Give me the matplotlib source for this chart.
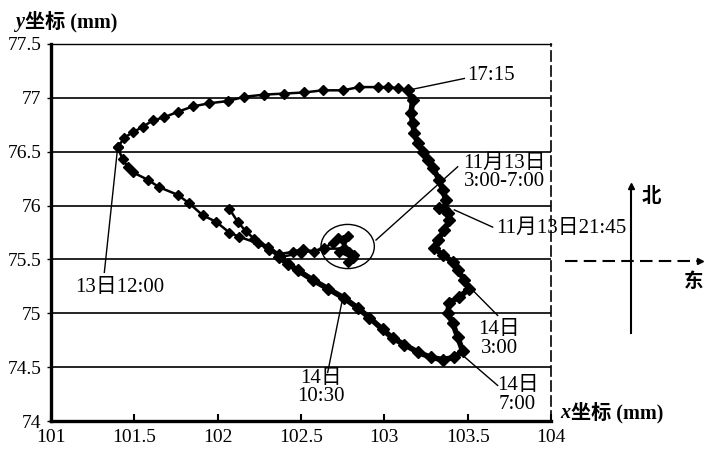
import matplotlib
matplotlib.use("Agg")
import matplotlib.pyplot as plt
from matplotlib.patches import Ellipse
from matplotlib.lines import Line2D

plt.rcParams['font.family'] = ['Liberation Serif', 'Noto Sans CJK SC']
plt.rcParams['axes.unicode_minus'] = False

# === Data ===
# part 1: start, into the 3:00-7:00 cluster, back out and up to the 12:00 tip
track_a_x = [102.07, 102.12, 102.17, 102.22, 102.30, 102.37, 102.45, 102.51, 102.58, 102.64,
             102.69, 102.72, 102.75, 102.78, 102.76, 102.79, 102.73, 102.81, 102.78, 102.82, 102.76,
             102.64, 102.50, 102.37, 102.31, 102.24, 102.13, 102.07, 101.99, 101.91, 101.83,
             101.76, 101.65, 101.58, 101.49, 101.46, 101.43, 101.40]
track_a_y = [75.97, 75.85, 75.76, 75.69, 75.62, 75.55, 75.57, 75.60, 75.57, 75.61,
             75.65, 75.70, 75.68, 75.72, 75.61, 75.57, 75.57, 75.51, 75.48, 75.54, 75.60,
             75.60, 75.56, 75.52, 75.59, 75.65, 75.71, 75.75, 75.85, 75.91, 76.02,
             76.10, 76.17, 76.24, 76.31, 76.36, 76.43, 76.54]

# part 2: top arc, 12:00 -> 17:15
track_b_x = [101.40, 101.44, 101.49, 101.55, 101.61, 101.68, 101.76, 101.85, 101.95, 102.06,
             102.16, 102.28, 102.40, 102.52, 102.63, 102.75, 102.85, 102.96, 103.02, 103.08, 103.14]
track_b_y = [76.54, 76.63, 76.68, 76.73, 76.79, 76.82, 76.87, 76.92, 76.95, 76.97,
             77.01, 77.03, 77.04, 77.05, 77.07, 77.07, 77.10, 77.10, 77.10, 77.09, 77.07]

# part 3: down the east side and back along the bottom arc
track_c_x = [103.14, 103.17, 103.16, 103.17, 103.18, 103.20, 103.23, 103.26, 103.29, 103.33,
             103.35, 103.37, 103.36, 103.33, 103.38, 103.39, 103.36, 103.32, 103.30, 103.35,
             103.41, 103.44, 103.48, 103.51, 103.45, 103.39, 103.38, 103.41, 103.44, 103.47,
             103.42, 103.35, 103.28, 103.20, 103.12, 103.05, 102.99, 102.91, 102.84, 102.76,
             102.66, 102.57, 102.48, 102.42, 102.37]
track_c_y = [77.07, 76.98, 76.86, 76.77, 76.67, 76.58, 76.50, 76.42, 76.35, 76.24,
             76.14, 76.05, 75.97, 75.98, 75.93, 75.87, 75.77, 75.68, 75.61, 75.54,
             75.48, 75.40, 75.31, 75.23, 75.15, 75.10, 75.00, 74.91, 74.78, 74.65,
             74.59, 74.57, 74.59, 74.64, 74.71, 74.77, 74.85, 74.96, 75.05, 75.14,
             75.23, 75.31, 75.40, 75.46, 75.52]

x_ticks = [101, 101.5, 102, 102.5, 103, 103.5, 104]
x_tick_labels = ["101", "101.5", "102", "102.5", "103", "103.5", "104"]
y_ticks = [74, 74.5, 75, 75.5, 76, 76.5, 77, 77.5]
y_tick_labels = ["74", "74.5", "75", "75.5", "76", "76.5", "77", "77.5"]

# === Figure ===
W, H = 704, 449
fig = plt.figure(figsize=(W / 100, H / 100), dpi=100)
ax = fig.add_axes([51 / W, 1 - 421 / H, 500 / W, 377 / H])

# grid lines
for yv in y_ticks[1:-1]:
    ax.axhline(yv, color="black", lw=1.2, zorder=1)

# track
ax.plot(track_a_x, track_a_y, color="black", lw=1.8, marker="D", ms=5.5, zorder=3)
ax.plot(track_b_x, track_b_y, color="black", lw=1.8, marker="D", ms=5.5, zorder=3)
ax.plot(track_c_x, track_c_y, color="black", lw=4.0, marker="D", ms=6, zorder=3)

# cluster circle
ax.add_patch(Ellipse((102.78, 75.62), 0.32, 0.41, fill=False, lw=1.0, color="black", zorder=2))

# === Annotations ===
fs = 15
notes = [
    # point, line end, text, text pos, ha
    ((103.17, 77.08), (103.48, 77.18), "17:15", (103.50, 77.21), "left"),
    ((102.95, 75.68), (103.44, 76.36), "11月13日\n3:00-7:00", (103.72, 76.31), "center"),
    ((103.42, 75.96), (103.65, 75.80), "11月13日21:45", (103.67, 75.79), "left"),
    ((101.40, 76.54), (101.32, 75.38), "13日12:00", (101.41, 75.24), "center"),
    ((103.52, 75.23), (103.68, 74.98), "14日\n3:00", (103.69, 74.76), "center"),
    ((103.47, 74.61), (103.68, 74.33), "14日\n7:00", (103.80, 74.24), "center"),
    ((102.75, 75.14), (102.66, 74.45), "14日\n10:30", (102.62, 74.31), "center"),
]
for (px, py), (ex, ey), label, (tx, ty), ha in notes:
    ax.plot([px, ex], [py, ey], color="black", lw=1.0, zorder=2)
    ax.text(tx, ty, label, ha=ha, va="center", fontsize=fs, linespacing=0.95,
            multialignment="center", zorder=4)

# === Axes style ===
ax.set_xlim(101, 104)
ax.set_ylim(74, 77.5)
ax.set_xticks(x_ticks)
ax.set_xticklabels(x_tick_labels)
ax.set_yticks(y_ticks)
ax.set_yticklabels(y_tick_labels)
ax.tick_params(axis="x", direction="in", length=5, width=1.5, labelsize=14, pad=6)
ax.tick_params(axis="y", direction="out", length=3, width=1, labelsize=14, pad=4)
ax.spines["left"].set_linewidth(2.4)
ax.spines["bottom"].set_linewidth(2.4)
ax.spines["top"].set_linewidth(1.0)
ax.spines["right"].set_linewidth(1.2)
ax.spines["right"].set_linestyle((0, (6, 3)))

# axis titles: italic letter + CJK rest
fig.text(15 / W, 1 - 22 / H, "y", ha="left", va="center", fontsize=14.5, fontweight="bold", style="italic")
fig.text(25 / W, 1 - 22 / H, "坐标 (mm)", ha="left", va="center", fontsize=14.5, fontweight="bold")
fig.text(560 / W, 1 - 413 / H, "x", ha="left", va="center", fontsize=14.5, fontweight="bold", style="italic")
fig.text(571 / W, 1 - 413 / H, "坐标 (mm)", ha="left", va="center", fontsize=14.5, fontweight="bold")

# === Compass ===
fig.add_artist(Line2D([631 / W, 631 / W], [1 - 333 / H, 1 - 186 / H], color="black", lw=1.5,
                      transform=fig.transFigure))
fig.add_artist(Line2D([631 / W], [1 - 186 / H], color="black", marker="^", ms=4,
                      transform=fig.transFigure))
fig.add_artist(Line2D([565 / W, 700 / W], [1 - 261 / H, 1 - 261 / H], color="black", lw=1.5,
                      linestyle=(0, (6, 3)), transform=fig.transFigure))
fig.add_artist(Line2D([700 / W], [1 - 261 / H], color="black", marker=">", ms=4,
                      transform=fig.transFigure))
fig.text(651 / W, 1 - 197 / H, "北", ha="center", va="center", fontsize=14, fontweight="bold")
fig.text(694 / W, 1 - 282 / H, "东", ha="center", va="center", fontsize=14, fontweight="bold")

fig.savefig("out.png", dpi=100)
